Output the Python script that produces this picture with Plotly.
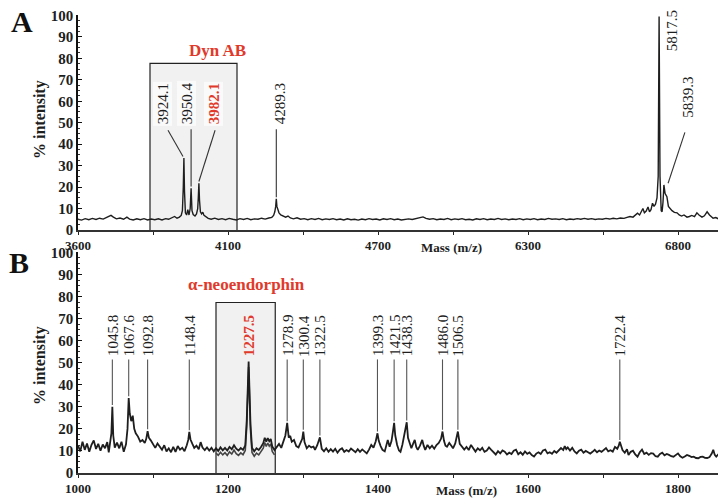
import plotly.graph_objects as go

# ---------------- Panel A data ----------------
# x values are positions along panel A's printed axis scale (ticks evenly spaced, labels as printed)
a_x = [3600, 3612, 3624, 3636, 3648, 3660, 3672, 3684, 3694, 3702, 3710, 3718, 3728, 3740, 3752, 3763,
       3772, 3784, 3796, 3808, 3820, 3832, 3844, 3856, 3868, 3880, 3892, 3902, 3912, 3922, 3930, 3938,
       3944, 3948, 3951, 3953, 3955, 3958, 3962, 3966, 3970, 3974, 3977, 3980, 3984, 3990, 3995, 3999,
       4001, 4003, 4005, 4008, 4012, 4016, 4020, 4026, 4034, 4044, 4056, 4068, 4080, 4092, 4104, 4116,
       4128, 4140, 4152, 4164, 4176, 4188, 4200, 4212, 4224, 4236, 4246, 4252, 4256, 4259, 4261, 4263,
       4266, 4270, 4276, 4284, 4292, 4300, 4308, 4318, 4330, 4342, 4354, 4366, 4378, 4390, 4402, 4414,
       4426, 4438, 4450, 4462, 4474, 4486, 4498, 4510, 4522, 4534, 4546, 4558, 4570, 4582, 4594, 4606,
       4618, 4630, 4642, 4654, 4666, 4678, 4690, 4702, 4714, 4726, 4738, 4750, 4760, 4772, 4784, 4796,
       4808, 4820, 4832, 4844, 4856, 4868, 4880, 4892, 4904, 4916, 4928, 4940, 4952, 4964, 4976, 4988,
       5000, 5012, 5024, 5036, 5048, 5060, 5072, 5084, 5096, 5108, 5120, 5132, 5144, 5156, 5168, 5180,
       5192, 5204, 5216, 5228, 5240, 5252, 5264, 5276, 5288, 5300, 5312, 5324, 5336, 5348, 5360, 5372,
       5384, 5396, 5408, 5420, 5430, 5440, 5450, 5458, 5465, 5472, 5478, 5483, 5488, 5494, 5500, 5505,
       5510, 5515, 5520, 5525, 5530, 5534, 5537, 5540, 5544, 5547, 5550, 5553, 5557, 5563, 5568, 5573,
       5580, 5588, 5597, 5604, 5612, 5620, 5630, 5638, 5646, 5655, 5663, 5670, 5680, 5688, 5697, 5705,
       5712, 5717, 5726, 5735, 5744, 5752, 5760]
a_y = [5.0, 4.6, 5.3, 4.8, 5.4, 4.9, 5.5, 5.1, 5.8, 6.5, 6.8, 6.0, 5.2, 5.6, 5.0, 6.0,
       5.1, 4.7, 5.2, 4.8, 5.3, 4.7, 5.1, 4.8, 5.2, 4.7, 5.3, 5.0, 5.6, 6.3, 5.5, 6.0,
       6.8, 9.0, 20.0, 33.5, 18.0, 8.0, 7.0, 9.5, 7.0, 10.0, 19.5, 9.0, 7.2, 6.5, 7.5, 10.0,
       15.0, 21.8, 14.0, 8.5, 7.5, 8.3, 6.8, 6.0, 5.4, 5.0, 5.5, 4.9, 5.3, 4.8, 5.4, 5.0,
       4.7, 5.3, 4.9, 5.4, 4.8, 5.2, 5.0, 5.5, 5.1, 5.6, 5.9, 6.8, 8.5, 11.0, 14.5, 11.0,
       9.0, 8.0, 7.0, 6.3, 6.0, 6.5, 5.6, 5.2, 5.7, 5.0, 5.3, 4.8, 5.3, 4.9, 5.4, 4.8,
       5.2, 4.9, 5.3, 4.8, 5.1, 4.7, 5.2, 4.8, 5.0, 4.6, 5.1, 4.8, 5.3, 4.9, 5.1, 4.7,
       5.2, 4.9, 5.3, 4.8, 5.1, 4.7, 5.0, 5.2, 4.9, 5.4, 5.8, 6.1, 5.4, 5.0, 5.3, 4.8,
       5.1, 4.9, 5.4, 4.8, 5.2, 4.9, 5.3, 4.8, 5.0, 4.7, 5.2, 4.9, 5.3, 4.8, 5.1, 4.9,
       5.4, 4.9, 5.2, 4.8, 5.1, 4.9, 5.3, 4.8, 5.2, 4.9, 5.3, 4.8, 5.1, 4.9, 5.4, 5.0,
       5.2, 4.9, 5.3, 4.8, 5.1, 4.9, 5.3, 5.0, 5.4, 5.0, 5.3, 4.9, 5.2, 5.0, 5.4, 5.1,
       5.5, 5.2, 5.6, 5.4, 5.9, 6.3, 6.0, 7.0, 7.8, 7.0, 8.5, 10.0, 8.0, 8.8, 10.7, 8.5,
       9.5, 12.5, 11.0, 12.0, 15.0, 25.0, 99.5, 25.0, 9.0, 8.5, 13.0, 21.0, 17.0, 15.5, 11.0, 10.0,
       9.0, 8.2, 8.0, 7.0, 6.5, 7.0, 6.0, 6.3, 6.8, 6.2, 8.0, 7.0, 6.0, 6.6, 8.5, 7.0,
       6.0, 5.5, 5.8, 5.2, 5.5, 5.0, 5.1]
a_tick_vals = [3600, 4100, 4600, 5100, 5600]
a_tick_text = ["3600", "4100", "4700", "6300", "6800"]
a_peak_labels = ["3924.1", "3950.4", "3982.1", "4289.3", "5817.5", "5839.3"]
a_peak_x = [3953, 3977, 4003, 4261, 5537, 5553]
a_peak_y = [33.5, 19.5, 21.8, 14.5, 99.5, 21.0]
a_highlight = "3982.1"
a_group_name = "Dyn AB"

# ---------------- Panel B data ----------------
b_x = [1000, 1003, 1006, 1009, 1012, 1015, 1018, 1021, 1024, 1027, 1030, 1033, 1036, 1039, 1041, 1043,
       1044.5, 1045.8, 1047, 1049, 1052, 1055, 1058, 1061, 1064, 1066, 1067.6, 1069, 1071, 1073, 1075, 1077,
       1080, 1083, 1086, 1089, 1091, 1092.8, 1094.5, 1097, 1100, 1103, 1106, 1109, 1112, 1115, 1118, 1121,
       1124, 1127, 1130, 1133, 1136, 1139, 1142, 1145, 1147, 1148.4, 1150, 1152.5, 1155, 1158, 1161, 1163.5,
       1166, 1169, 1172, 1175, 1178, 1181, 1184, 1187, 1190, 1193, 1196, 1199, 1202, 1205, 1208, 1211,
       1214, 1217, 1220, 1223, 1225, 1227.5, 1230, 1232, 1235, 1238, 1241, 1244, 1247, 1249, 1251, 1253,
       1255, 1257, 1259, 1262, 1265, 1268, 1271, 1274, 1276.5, 1278.9, 1281, 1283, 1285, 1288, 1291, 1294,
       1297, 1299, 1300.4, 1302, 1305, 1308, 1311, 1314, 1316, 1319, 1322.5, 1325, 1328, 1331, 1334, 1337,
       1340, 1343, 1346, 1349, 1352, 1355, 1358, 1361, 1364, 1367, 1370, 1373, 1376, 1379, 1382, 1385,
       1388, 1391, 1394, 1397, 1399.3, 1401, 1403.5, 1406, 1409, 1411, 1413, 1415.5, 1418, 1420, 1421.5, 1423,
       1425.5, 1428, 1430, 1432.5, 1435, 1436.8, 1438.3, 1440, 1442, 1444.5, 1447, 1449, 1451, 1453, 1456, 1459,
       1461, 1463, 1466, 1469, 1472, 1475, 1478, 1481, 1484, 1486, 1488, 1490, 1492, 1495, 1498, 1500,
       1503, 1506.5, 1509, 1512, 1515, 1518, 1521, 1524, 1527, 1530, 1533, 1536, 1539, 1542, 1545, 1548,
       1551, 1554, 1557, 1560, 1563, 1566, 1569, 1572, 1575, 1578, 1581, 1584, 1587, 1590, 1593, 1596,
       1599, 1602, 1605, 1608, 1611, 1614, 1617, 1620, 1623, 1626, 1629, 1632, 1635, 1638, 1641, 1644,
       1647, 1649, 1651, 1653, 1656, 1659, 1662, 1665, 1668, 1671, 1674, 1677, 1680, 1683, 1686, 1689,
       1692, 1695, 1698, 1701, 1704, 1707, 1710, 1713, 1716, 1719, 1721, 1722.4, 1724, 1726, 1729, 1732,
       1734, 1737, 1740, 1743, 1746, 1749, 1752, 1755, 1758, 1761, 1764, 1767, 1770, 1773, 1776, 1779,
       1782, 1785, 1788, 1791, 1794, 1797, 1800, 1803, 1806, 1809, 1812, 1815, 1818, 1821, 1824, 1827,
       1830, 1833, 1836, 1839, 1842, 1845, 1847, 1849, 1851, 1854, 1856, 1859, 1862, 1864]
b_y = [12.5, 9.8, 14.2, 10.5, 13.4, 9.6, 12.8, 14.8, 10.9, 13.2, 10.1, 12.9, 11.2, 14.0, 9.4, 13.6,
       18.0, 30.0, 17.0, 11.5, 13.8, 11.2, 14.2, 9.6, 13.0, 20.0, 34.0, 27.0, 23.5, 26.0, 20.0, 18.0,
       16.5, 14.2, 15.0, 13.6, 15.5, 19.0, 16.0, 14.8, 13.2, 11.4, 13.4, 12.2, 10.5, 12.6, 9.8, 11.2,
       9.4, 11.8, 9.6, 12.2, 10.6, 11.4, 9.9, 12.6, 15.0, 18.6, 15.2, 13.2, 11.4, 12.4, 10.8, 14.0,
       11.5, 10.4, 11.6, 10.2, 11.4, 9.8, 11.2, 10.0, 11.6, 10.3, 11.4, 10.2, 11.8, 10.8, 12.6, 11.0,
       10.2, 11.3, 10.5, 12.5, 24.0, 50.5, 22.0, 11.5, 9.8, 11.2, 10.4, 11.8, 13.5, 16.0, 14.2, 15.8,
       14.4, 15.4, 12.0, 10.4, 11.6, 13.2, 11.4, 14.2, 17.0, 22.7, 16.0, 16.8, 14.2, 15.0, 12.2, 11.6,
       13.8, 15.5, 18.8, 14.0, 11.2, 12.4, 11.6, 12.0, 10.5, 12.6, 16.2, 11.0, 9.8, 11.2, 9.6, 10.8,
       9.7, 11.0, 9.2, 10.6, 11.2, 9.6, 10.4, 9.7, 11.1, 10.2, 9.4, 10.8, 9.6, 10.7, 9.8, 8.9,
       10.6, 12.7, 11.5, 14.4, 18.0, 14.6, 12.2, 10.5, 9.8, 12.6, 15.0, 11.9, 14.5, 19.0, 22.7, 17.0,
       12.7, 10.2, 9.6, 12.8, 17.0, 20.5, 23.0, 16.0, 13.6, 11.2, 13.4, 15.0, 11.8, 10.5, 12.4, 15.0,
       12.3, 10.5, 12.7, 11.2, 12.4, 11.0, 12.7, 13.6, 15.5, 18.8, 14.6, 12.4, 11.9, 13.6, 12.2, 11.2,
       13.4, 18.8, 13.2, 11.9, 10.6, 11.8, 10.4, 12.7, 11.4, 9.7, 11.2, 10.3, 11.4, 9.6, 10.2, 11.6,
       10.5, 9.4, 8.4, 9.9, 8.9, 10.2, 9.7, 8.4, 9.2, 8.6, 10.1, 10.6, 8.5, 9.4, 8.3, 9.8,
       8.7, 9.3, 8.1, 7.5, 8.8, 9.4, 8.6, 10.2, 10.6, 8.9, 9.4, 8.7, 10.0, 9.2, 10.3, 11.3,
       10.4, 12.2, 10.8, 11.6, 10.2, 11.4, 9.8, 8.9, 10.1, 10.6, 9.2, 10.0, 9.4, 8.8, 9.6, 10.5,
       9.4, 10.2, 9.6, 10.4, 11.3, 9.8, 10.3, 9.7, 11.8, 11.0, 12.4, 14.2, 12.2, 10.4, 9.2, 10.8,
       8.2, 9.6, 10.1, 8.4, 7.4, 9.4, 10.6, 8.6, 9.2, 8.2, 9.0, 8.8, 7.6, 7.4, 8.6, 9.2,
       8.0, 8.6, 8.2, 7.6, 7.4, 8.3, 8.9, 7.6, 6.9, 7.5, 8.2, 7.8, 7.2, 7.4, 6.8, 6.7,
       7.3, 7.4, 6.9, 6.8, 7.2, 8.8, 10.5, 8.2, 7.4, 8.5, 8.9, 7.8, 8.6, 8.2]
# second (overlaid) spectrum visible inside the alpha-neoendorphin box
b2_x = [1184, 1187, 1190, 1193, 1196, 1199, 1202, 1205, 1208, 1211, 1214, 1217, 1220, 1223, 1225, 1227.5,
        1230, 1232, 1235, 1238, 1241, 1244, 1247, 1249, 1251, 1253, 1255, 1257, 1259, 1262]
b2_y = [9.0, 8.0, 9.4, 8.2, 9.2, 8.0, 9.6, 8.6, 10.4, 8.8, 8.0, 9.1, 8.3, 10.2, 21.0, 48.0,
        19.5, 9.3, 7.6, 9.0, 8.2, 9.6, 11.3, 13.8, 12.0, 13.6, 12.2, 13.2, 9.8, 8.2]
b_tick_vals = [1000, 1200, 1400, 1600, 1800]
b_peak_labels = ["1045.8", "1067.6", "1092.8", "1148.4", "1227.5", "1278.9", "1300.4", "1322.5",
                 "1399.3", "1421.5", "1438.3", "1486.0", "1506.5", "1722.4"]
b_peak_x = [1045.8, 1067.6, 1092.8, 1148.4, 1227.5, 1278.9, 1300.4, 1322.5,
            1399.3, 1421.5, 1438.3, 1486.0, 1506.5, 1722.4]
b_peak_y = [30.0, 34.0, 19.0, 18.6, 50.5, 22.7, 18.8, 16.2, 18.0, 22.7, 23.0, 18.8, 18.8, 14.2]
b_highlight = "1227.5"
b_group_name = "α-neoendorphin"

y_tick_vals = [0, 10, 20, 30, 40, 50, 60, 70, 80, 90, 100]

# ---------------- styling / layout ----------------
# The page body has an 8px default margin, so the figure is sized to fill the rest of the window.
OFF = 8
W, H = 726 - OFF, 504 - OFF
ML, MR, MT = 78 - OFF, 0, 15 - OFF
MB = H - (473 - OFF)
PW, PH = W - ML - MR, H - MT - MB
SERIF = "Liberation Serif, Times New Roman, serif"
INK = "#1e1e1e"
RED = "#e03a2c"


def pxx(px):
    # window pixel x -> paper x
    return (px - OFF - ML) / PW


def pxy(py):
    # window pixel y -> paper y
    return (H - MB - (py - OFF)) / PH


A_DOM = [pxy(230), 1]
B_DOM = [0, pxy(252)]

fig = go.Figure()
fig.add_trace(go.Scatter(x=a_x, y=a_y, mode="lines", line=dict(color=INK, width=1.4),
                         xaxis="x", yaxis="y", showlegend=False, hoverinfo="skip"))
fig.add_trace(go.Scatter(x=b2_x, y=b2_y, mode="lines", line=dict(color="#444444", width=1.6),
                         xaxis="x2", yaxis="y2", showlegend=False, hoverinfo="skip"))
fig.add_trace(go.Scatter(x=b_x, y=b_y, mode="lines", line=dict(color=INK, width=1.8),
                         xaxis="x2", yaxis="y2", showlegend=False, hoverinfo="skip"))

shapes = []
annotations = []

# highlight boxes
shapes.append(dict(type="rect", xref="x", yref="y", x0=3840, x1=4130, y0=-1, y1=77.7,
                   fillcolor="#f1f1f1", line=dict(color="#222", width=1.2), layer="below"))
shapes.append(dict(type="rect", xref="x2", yref="y2", x0=1184, x1=1263, y0=-1, y1=77.3,
                   fillcolor="#f1f1f1", line=dict(color="#222", width=1.2), layer="below"))

# panel A label placement: label center x/y, leader start x/y, leader end x shift
a_label_pos = {
    "3924.1": (3883, 59, 3900, 46.5, -3),
    "3950.4": (3963, 59, 3977, 47, 0),
    "3982.1": (4053, 59, 4057, 46.5, 0),
    "4289.3": (4273, 59, 4261, 47, 0),
    "5817.5": (5580, 92.6, None, None, 0),
    "5839.3": (5633, 62, 5623, 45.5, 14),
}
for lab, px, py in zip(a_peak_labels, a_peak_x, a_peak_y):
    lx, ly, sx, sy, dx = a_label_pos[lab]
    hl = lab == a_highlight
    inbox = 3840 < lx < 4130
    annotations.append(dict(x=lx, y=ly, xref="x", yref="y", text=lab, showarrow=False,
                            textangle=-90, xanchor="center", yanchor="middle",
                            bgcolor="#fafafa" if inbox else None,
                            font=dict(family=SERIF, size=15, color=RED if hl else INK,
                                      weight="bold" if hl else "normal")))
    if sx is not None:
        shapes.append(dict(type="line", xref="x", yref="y", x0=sx, y0=sy, x1=px + dx, y1=py + 0.8,
                           line=dict(color="#333", width=1.1)))

for lab, px, py in zip(b_peak_labels, b_peak_x, b_peak_y):
    hl = lab == b_highlight
    annotations.append(dict(x=px, y=62.3, xref="x2", yref="y2", text=lab, showarrow=False,
                            textangle=-90, xanchor="center", yanchor="middle",
                            font=dict(family=SERIF, size=15, color=RED if hl else INK,
                                      weight="bold" if hl else "normal")))
    if not hl:
        shapes.append(dict(type="line", xref="x2", yref="y2", x0=px, y0=51.5, x1=px, y1=py + 0.8,
                           line=dict(color="#555", width=1.1)))

# group names
annotations.append(dict(x=4065, y=83.5, xref="x", yref="y", text=a_group_name, showarrow=False,
                        xanchor="center", font=dict(family=SERIF, size=17, color=RED, weight="bold")))
annotations.append(dict(x=1224, y=85.5, xref="x2", yref="y2", text=b_group_name, showarrow=False,
                        xanchor="center", font=dict(family=SERIF, size=17, color=RED, weight="bold")))

# panel letters
annotations.append(dict(x=pxx(22), y=pxy(22), xref="paper", yref="paper", text="A", showarrow=False,
                        xanchor="center", yanchor="middle",
                        font=dict(family=SERIF, size=30, color="#111", weight="bold")))
annotations.append(dict(x=pxx(19), y=pxy(263), xref="paper", yref="paper", text="B", showarrow=False,
                        xanchor="center", yanchor="middle",
                        font=dict(family=SERIF, size=30, color="#111", weight="bold")))

# axis titles
for yc in (120, 366):
    annotations.append(dict(x=pxx(40), y=pxy(yc), xref="paper", yref="paper", text="% intensity",
                            showarrow=False, textangle=-90, xanchor="center", yanchor="middle",
                            font=dict(family=SERIF, size=16, color=INK, weight="bold")))
annotations.append(dict(x=pxx(451), y=pxy(247), xref="paper", yref="paper", text="Mass (m/z)",
                        showarrow=False, xanchor="center", yanchor="middle",
                        font=dict(family=SERIF, size=13, color=INK, weight="bold")))
annotations.append(dict(x=pxx(466), y=pxy(490), xref="paper", yref="paper", text="Mass (m/z)",
                        showarrow=False, xanchor="center", yanchor="middle",
                        font=dict(family=SERIF, size=13, color=INK, weight="bold")))

tickfont = dict(family=SERIF, size=13, color=INK, weight="bold")
ytickfont = dict(family=SERIF, size=15, color=INK, weight="bold")

yaxis_common = dict(range=[0, 100.2], tickvals=y_tick_vals, showline=True, linecolor="#111", linewidth=1.5,
                    ticks="inside", ticklen=4, tickwidth=1, tickcolor="#111", showgrid=False,
                    zeroline=False, tickfont=ytickfont, automargin=False, ticklabeloverflow="allow",
                    minor=dict(ticks="inside", ticklen=2, dtick=2.5, tickcolor="#333", showgrid=False))
xaxis_common = dict(showline=True, linecolor="#333", linewidth=1.5, ticks="outside", ticklen=3,
                    tickwidth=1.2, tickcolor="#222", showgrid=False, zeroline=False, tickfont=tickfont,
                    automargin=False, ticklabeloverflow="allow")

fig.update_layout(
    width=W, height=H, margin=dict(l=ML, r=MR, t=MT, b=MB, autoexpand=False),
    paper_bgcolor="white", plot_bgcolor="white", showlegend=False,
    xaxis=dict(domain=[0, 1], anchor="y", range=[3600, 5760], tickvals=a_tick_vals, ticktext=a_tick_text,
               minor=dict(ticks="outside", ticklen=3, tickvals=[3850, 4350, 4850, 5350], tickcolor="#222"),
               **xaxis_common),
    yaxis=dict(domain=A_DOM, anchor="x", **yaxis_common),
    xaxis2=dict(domain=[0, 1], anchor="y2", range=[1000, 1864], tickvals=b_tick_vals,
                minor=dict(ticks="outside", ticklen=3, dtick=100, tickcolor="#222"),
                **xaxis_common),
    yaxis2=dict(domain=B_DOM, anchor="x2", **yaxis_common),
    shapes=shapes, annotations=annotations,
)

fig.write_html("out.html")
